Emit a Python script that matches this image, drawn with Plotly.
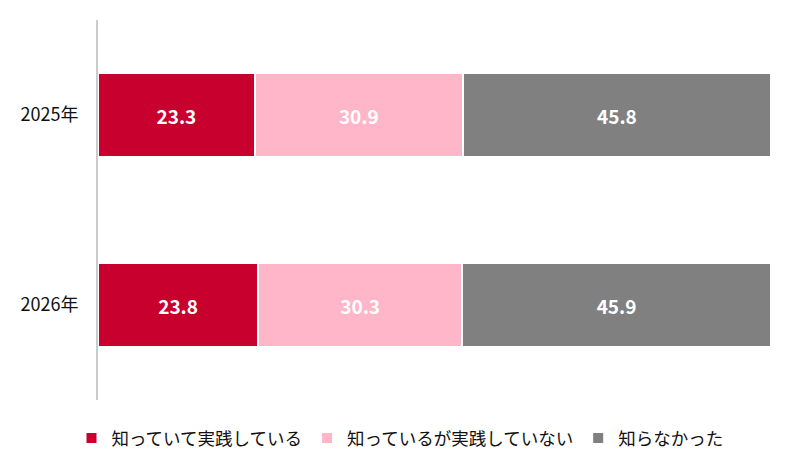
import plotly.graph_objects as go

# データ
years = ["2025年", "2026年"]
series_names = ["知っていて実践している", "知っているが実践していない", "知らなかった"]
practiced = [23.3, 23.8]
not_practiced = [30.9, 30.3]
unknown = [45.8, 45.9]
colors = ["#C8002E", "#FFB6C8", "#808080"]

fig = go.Figure()
for name, vals, col in zip(series_names, [practiced, not_practiced, unknown], colors):
    fig.add_trace(go.Bar(
        y=years, x=vals, name=name, orientation="h",
        marker=dict(color=col, line=dict(color="white", width=2)),
        text=[f"{v:.1f}" for v in vals], textposition="inside",
        insidetextanchor="middle",
        textfont=dict(color="white", size=19, family="Noto Sans CJK JP", weight="bold"),
        hoverinfo="x+name",
    ))

# ページ余白(8px)分をずらして調整
fig.update_layout(
    barmode="stack",
    width=800, height=469,
    margin=dict(l=90, r=37, t=12, b=77),
    plot_bgcolor="white", paper_bgcolor="white",
    bargap=0.56,
    font=dict(family="Noto Sans CJK JP", color="#111111"),
    showlegend=True,
    legend=dict(orientation="h", xref="container", yref="container",
                x=0.49, xanchor="center", y=0.083, yanchor="middle",
                traceorder="normal", font=dict(size=17.5)),
)
fig.update_xaxes(range=[0, 100], showticklabels=False, showgrid=False, zeroline=False)
fig.update_yaxes(autorange="reversed", showline=True, linecolor="#CCCCCC", linewidth=2,
                 ticks="", tickfont=dict(size=18), ticklabelstandoff=14, showgrid=False,
                 automargin=False)

fig.write_html("out.html")
